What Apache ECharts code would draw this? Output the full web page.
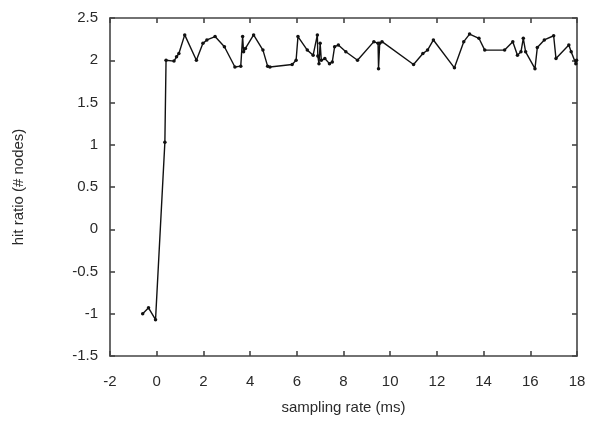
<!DOCTYPE html>
<html>
<head>
<meta charset="utf-8">
<script src="https://cdn.jsdelivr.net/npm/echarts@6/dist/echarts.min.js"></script>
<style>html,body{margin:0;padding:0;background:#fff}#c{width:595px;height:427px}</style>
</head>
<body>
<div id="c"></div>
<script>
const xValues = [-0.6,-0.35,-0.05,0.35,0.4,0.74,0.85,0.95,1.2,1.7,1.98,2.15,2.5,2.9,3.35,3.6,3.68,3.72,3.8,4.15,4.55,4.75,4.85,5.8,5.97,6.05,6.45,6.7,6.88,6.9,6.95,7.0,7.05,7.2,7.4,7.52,7.62,7.78,8.1,8.6,9.3,9.48,9.5,9.55,9.65,11.0,11.4,11.6,11.85,12.75,13.15,13.4,13.8,14.05,14.9,15.25,15.45,15.6,15.7,15.8,16.2,16.3,16.6,17.0,17.1,17.65,17.75,17.95,17.98];
const yValues = [-1.0,-0.93,-1.07,1.03,2.0,1.99,2.04,2.08,2.3,2.0,2.2,2.24,2.28,2.16,1.92,1.93,2.28,2.1,2.14,2.3,2.12,1.93,1.92,1.95,2.0,2.28,2.12,2.06,2.3,2.05,1.96,2.2,2.0,2.02,1.96,1.98,2.16,2.18,2.1,2.0,2.22,2.2,1.9,2.2,2.22,1.95,2.08,2.12,2.24,1.91,2.22,2.31,2.26,2.12,2.12,2.22,2.06,2.1,2.26,2.1,1.9,2.15,2.24,2.29,2.02,2.18,2.1,1.96,2.0];
const xTitle = 'sampling rate (ms)';
const yTitle = 'hit ratio (# nodes)';

const data = xValues.map((x, i) => [x, yValues[i]]);
const chart = echarts.init(document.getElementById('c'), null, {renderer: 'canvas'});
const font = 'Liberation Sans, Arial, sans-serif';
const lab = {color: '#2a2a2a', fontSize: 15, fontFamily: font};
const axisCommon = {
  axisLine: {show: true, onZero: false, lineStyle: {color: '#444', width: 1.6}},
  axisTick: {show: true, inside: true, length: 5, lineStyle: {color: '#444', width: 1.6}},
  splitLine: {show: false}
};
chart.setOption({
  animation: false,
  backgroundColor: '#fff',
  grid: {left: 110, right: 18, top: 18, bottom: 71, containLabel: false},
  xAxis: [
    Object.assign({type: 'value', min: -2, max: 18, interval: 2, position: 'bottom',
      name: xTitle, nameLocation: 'middle', nameGap: 44, nameTextStyle: lab,
      axisLabel: Object.assign({margin: 18}, lab)}, axisCommon),
    Object.assign({type: 'value', min: -2, max: 18, interval: 2, position: 'top',
      axisLabel: {show: false}}, axisCommon)
  ],
  yAxis: [
    Object.assign({type: 'value', min: -1.5, max: 2.5, interval: 0.5, position: 'left',
      name: yTitle, nameLocation: 'middle', nameGap: 84, nameRotate: 90, nameTextStyle: lab,
      axisLabel: Object.assign({margin: 12}, lab)}, axisCommon),
    Object.assign({type: 'value', min: -1.5, max: 2.5, interval: 0.5, position: 'right',
      axisLabel: {show: false}}, axisCommon)
  ],
  series: [{
    type: 'line',
    data: data,
    symbol: 'circle',
    symbolSize: 3.5,
    lineStyle: {color: '#111', width: 1.4},
    itemStyle: {color: '#111'},
    clip: false
  }]
});
</script>
</body>
</html>
